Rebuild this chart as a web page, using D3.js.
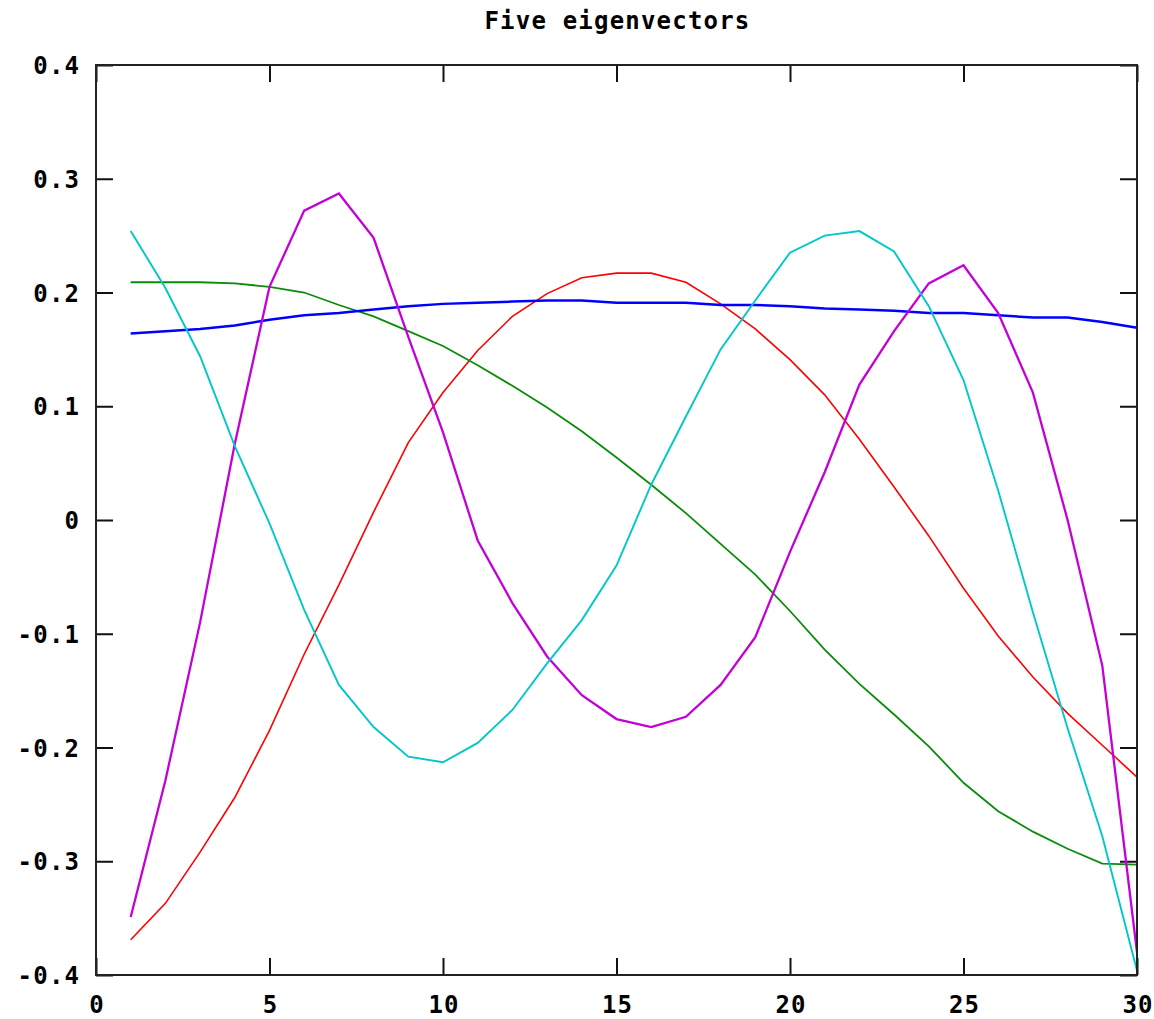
<!DOCTYPE html>
<html>
<head>
<meta charset="utf-8">
<script src="https://cdn.jsdelivr.net/npm/d3@7"></script>
<style>
  html, body { margin: 0; padding: 0; background: #ffffff; }
  svg { display: block; }
  text { font-family: "DejaVu Sans Mono", "Liberation Mono", monospace; font-weight: bold; fill: #000; }
</style>
</head>
<body>
<svg id="chart" width="1154" height="1019"></svg>
<script>
// Component index of each eigenvector entry
const index = [1, 2, 3, 4, 5, 6, 7, 8, 9, 10, 11, 12, 13, 14, 15,
               16, 17, 18, 19, 20, 21, 22, 23, 24, 25, 26, 27, 28, 29, 30];

// Eigenvector components
const vecRed = [-0.369, -0.337, -0.292, -0.244, -0.185, -0.118, -0.057, 0.007, 0.068, 0.112,
                0.149, 0.179, 0.199, 0.213, 0.217, 0.217, 0.209, 0.190, 0.168, 0.141,
                0.110, 0.071, 0.029, -0.014, -0.060, -0.102, -0.138, -0.170, -0.198, -0.226];
const vecGreen = [0.209, 0.209, 0.209, 0.208, 0.205, 0.200, 0.189, 0.179, 0.166, 0.153,
                  0.136, 0.118, 0.099, 0.078, 0.055, 0.031, 0.006, -0.021, -0.048, -0.080,
                  -0.114, -0.144, -0.171, -0.199, -0.231, -0.256, -0.274, -0.289, -0.302, -0.303];
const vecBlue = [0.164, 0.166, 0.168, 0.171, 0.176, 0.180, 0.182, 0.185, 0.188, 0.190,
                 0.191, 0.192, 0.193, 0.193, 0.191, 0.191, 0.191, 0.189, 0.189, 0.188,
                 0.186, 0.185, 0.184, 0.182, 0.182, 0.180, 0.178, 0.178, 0.174, 0.169];
const vecMagenta = [-0.349, -0.229, -0.090, 0.067, 0.205, 0.272, 0.287, 0.248, 0.161, 0.077,
                    -0.018, -0.073, -0.120, -0.154, -0.175, -0.182, -0.173, -0.145, -0.103, -0.028,
                    0.042, 0.119, 0.166, 0.208, 0.224, 0.182, 0.112, 0.000, -0.128, -0.380];
const vecCyan = [0.254, 0.204, 0.144, 0.065, -0.003, -0.079, -0.145, -0.182, -0.208, -0.213,
                 -0.196, -0.167, -0.126, -0.088, -0.040, 0.031, 0.091, 0.150, 0.193, 0.235,
                 0.250, 0.254, 0.236, 0.188, 0.123, 0.026, -0.081, -0.183, -0.278, -0.396];

// Axis ticks and labels
const xTicks = [0, 5, 10, 15, 20, 25, 30];
const xTickLabels = ["0", "5", "10", "15", "20", "25", "30"];
const yTicks = [0.4, 0.3, 0.2, 0.1, 0, -0.1, -0.2, -0.3, -0.4];
const yTickLabels = ["0.4", "0.3", "0.2", "0.1", "0", "-0.1", "-0.2", "-0.3", "-0.4"];

const chartTitle = "Five eigenvectors";

const series = [
  { values: vecRed,     color: "#ff0000", width: 1.6 },
  { values: vecGreen,   color: "#0a8c0a", width: 1.8 },
  { values: vecBlue,    color: "#0000ff", width: 2.5 },
  { values: vecMagenta, color: "#c400d8", width: 2.3 },
  { values: vecCyan,    color: "#00c8c8", width: 1.9 }
];

const svg = d3.select("#chart");
const plotLeft = 96, plotRight = 1137, plotTop = 65, plotBottom = 975;
const tickLen = 17;
const letterSp = 1.2;

const x = d3.scaleLinear().domain([0, 30]).range([plotLeft, plotRight]);
const y = d3.scaleLinear().domain([-0.4, 0.4]).range([plotBottom, plotTop]);

// Title
svg.append("text")
  .attr("x", (plotLeft + plotRight) / 2 + 1)
  .attr("y", 29)
  .attr("text-anchor", "middle")
  .attr("font-size", 24)
  .attr("letter-spacing", letterSp)
  .text(chartTitle);

// Axes with inward ticks on all four sides
const fmtX = d => xTickLabels[xTicks.indexOf(d)];
const fmtY = d => yTickLabels[yTicks.indexOf(d)];

const axStyle = g => {
  g.select(".domain").remove();
  g.selectAll(".tick line").attr("stroke", "#111").attr("stroke-width", 2);
};

const gB = svg.append("g").attr("transform", `translate(0,${plotBottom})`)
  .call(d3.axisBottom(x).tickValues(xTicks).tickFormat(fmtX).tickSizeInner(-tickLen).tickSizeOuter(0))
  .call(axStyle);
gB.selectAll(".tick text")
  .attr("y", 38).attr("dy", null)
  .attr("fill", "#000")
  .attr("font-size", 24)
  .attr("font-family", null)
  .attr("letter-spacing", letterSp)
  .attr("dx", letterSp / 2);

svg.append("g").attr("transform", `translate(0,${plotTop})`)
  .call(d3.axisTop(x).tickValues(xTicks).tickFormat("").tickSizeInner(-tickLen).tickSizeOuter(0))
  .call(axStyle);

const gL = svg.append("g").attr("transform", `translate(${plotLeft},0)`)
  .call(d3.axisLeft(y).tickValues(yTicks).tickFormat(fmtY).tickSizeInner(-tickLen).tickSizeOuter(0))
  .call(axStyle);
gL.selectAll(".tick text")
  .attr("x", -17 + letterSp).attr("dy", null).attr("y", 8.5)
  .attr("text-anchor", "end")
  .attr("fill", "#000")
  .attr("font-size", 24)
  .attr("font-family", null)
  .attr("letter-spacing", letterSp);

svg.append("g").attr("transform", `translate(${plotRight},0)`)
  .call(d3.axisRight(y).tickValues(yTicks).tickFormat("").tickSizeInner(-tickLen).tickSizeOuter(0))
  .call(axStyle);

// Eigenvector curves
const line = d3.line()
  .x((d, i) => x(index[i]))
  .y(d => y(d));

const gLines = svg.append("g");
series.forEach(s => {
  gLines.append("path")
    .datum(s.values)
    .attr("d", line)
    .attr("fill", "none")
    .attr("stroke", s.color)
    .attr("stroke-width", s.width)
    .attr("stroke-linejoin", "miter");
});

// Plot border
svg.append("rect")
  .attr("x", plotLeft).attr("y", plotTop)
  .attr("width", plotRight - plotLeft).attr("height", plotBottom - plotTop)
  .attr("fill", "none")
  .attr("stroke", "#222")
  .attr("stroke-width", 2);
</script>
</body>
</html>
